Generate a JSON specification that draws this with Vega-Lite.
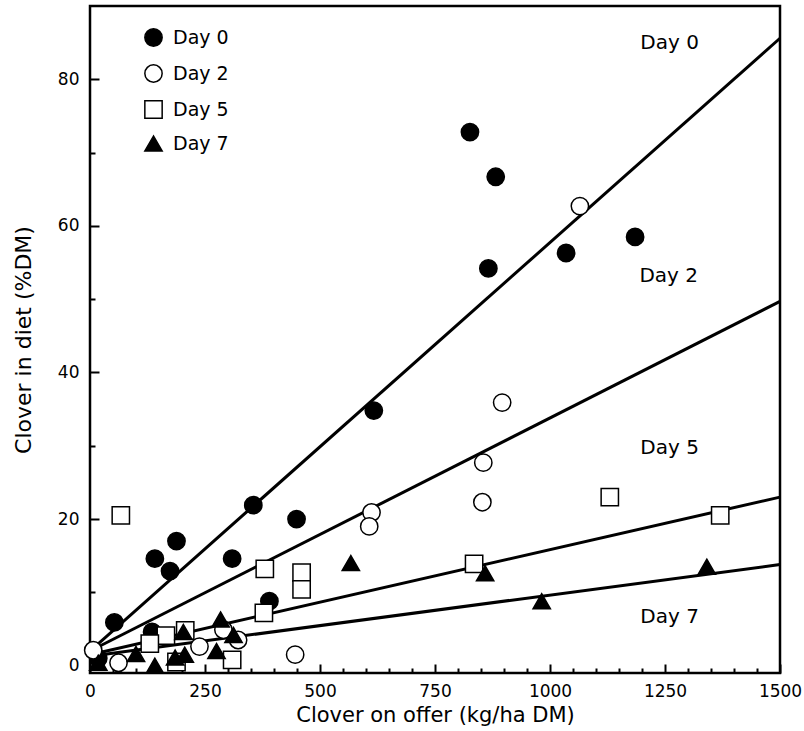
{
  "$schema": "https://vega.github.io/schema/vega-lite/v6.json",
  "autosize": {"type": "none"},
  "padding": {"left": 90, "top": 6, "right": 24, "bottom": 58},
  "width": 690,
  "height": 667,
  "config": {
    "font": "DejaVu Sans",
    "view": {"stroke": "black", "strokeWidth": 2.5},
    "axis": {
      "grid": false,
      "ticks": true,
      "domain": false,
      "tickColor": "black",
      "tickWidth": 2,
      "labelColor": "black",
      "labelFont": "DejaVu Sans",
      "labelFontSize": 17,
      "labelOverlap": false,
      "labelFlush": false,
      "titleFont": "DejaVu Sans",
      "titleFontSize": 21,
      "titleFontWeight": "normal",
      "titleColor": "black"
    },
    "legend": {
      "orient": "none",
      "legendX": 54,
      "legendY": 22,
      "padding": 0,
      "title": null,
      "labelFontSize": 19,
      "labelColor": "black",
      "labelFont": "DejaVu Sans",
      "symbolSize": 300,
      "symbolStrokeWidth": 1.5,
      "rowPadding": 11,
      "labelOffset": 10
    }
  },
  "resolve": {"axis": {"x": "independent", "y": "independent"}},
  "datasets": {
    "points": [
      {"series": "Day 0", "offer": 53, "diet": 5.9},
      {"series": "Day 0", "offer": 141, "diet": 14.6},
      {"series": "Day 0", "offer": 174, "diet": 12.9},
      {"series": "Day 0", "offer": 188, "diet": 17.0},
      {"series": "Day 0", "offer": 355, "diet": 21.9},
      {"series": "Day 0", "offer": 309, "diet": 14.6},
      {"series": "Day 0", "offer": 449, "diet": 20.0},
      {"series": "Day 0", "offer": 390, "diet": 8.8},
      {"series": "Day 0", "offer": 135, "diet": 4.6},
      {"series": "Day 0", "offer": 18, "diet": 1.0},
      {"series": "Day 0", "offer": 617, "diet": 34.8},
      {"series": "Day 0", "offer": 826, "diet": 72.8},
      {"series": "Day 0", "offer": 882, "diet": 66.7},
      {"series": "Day 0", "offer": 866, "diet": 54.2},
      {"series": "Day 0", "offer": 1035, "diet": 56.3},
      {"series": "Day 0", "offer": 1185, "diet": 58.5},
      {"series": "Day 2", "offer": 1065, "diet": 62.7},
      {"series": "Day 2", "offer": 896, "diet": 35.9},
      {"series": "Day 2", "offer": 855, "diet": 27.7},
      {"series": "Day 2", "offer": 853, "diet": 22.3},
      {"series": "Day 2", "offer": 612, "diet": 20.9},
      {"series": "Day 2", "offer": 607, "diet": 19.0},
      {"series": "Day 2", "offer": 446, "diet": 1.5},
      {"series": "Day 2", "offer": 62, "diet": 0.4},
      {"series": "Day 2", "offer": 7, "diet": 2.1},
      {"series": "Day 2", "offer": 238, "diet": 2.6},
      {"series": "Day 2", "offer": 290, "diet": 4.9},
      {"series": "Day 2", "offer": 322, "diet": 3.5},
      {"series": "Day 5", "offer": 67, "diet": 20.5},
      {"series": "Day 5", "offer": 380, "diet": 13.2},
      {"series": "Day 5", "offer": 460, "diet": 12.7},
      {"series": "Day 5", "offer": 460, "diet": 10.4},
      {"series": "Day 5", "offer": 378, "diet": 7.2},
      {"series": "Day 5", "offer": 309, "diet": 0.8},
      {"series": "Day 5", "offer": 207, "diet": 4.8},
      {"series": "Day 5", "offer": 165, "diet": 4.1},
      {"series": "Day 5", "offer": 188, "diet": 0.5},
      {"series": "Day 5", "offer": 130, "diet": 3.0},
      {"series": "Day 5", "offer": 835, "diet": 13.9},
      {"series": "Day 5", "offer": 1130, "diet": 23.0},
      {"series": "Day 5", "offer": 1370, "diet": 20.5},
      {"series": "Day 7", "offer": 567, "diet": 14.0},
      {"series": "Day 7", "offer": 859, "diet": 12.6},
      {"series": "Day 7", "offer": 982, "diet": 8.8},
      {"series": "Day 7", "offer": 1341, "diet": 13.5},
      {"series": "Day 7", "offer": 284, "diet": 6.3},
      {"series": "Day 7", "offer": 312, "diet": 4.2},
      {"series": "Day 7", "offer": 203, "diet": 4.6},
      {"series": "Day 7", "offer": 275, "diet": 2.0},
      {"series": "Day 7", "offer": 185, "diet": 1.1},
      {"series": "Day 7", "offer": 141, "diet": 0.0},
      {"series": "Day 7", "offer": 100, "diet": 1.6},
      {"series": "Day 7", "offer": 18, "diet": 0.4},
      {"series": "Day 7", "offer": 206, "diet": 1.5}
    ],
    "lines": [
      {"series": "Day 0", "offer": 0, "diet": 2.0},
      {"series": "Day 0", "offer": 1500, "diet": 85.6},
      {"series": "Day 2", "offer": 0, "diet": 2.0},
      {"series": "Day 2", "offer": 1500, "diet": 49.7},
      {"series": "Day 5", "offer": 0, "diet": 1.5},
      {"series": "Day 5", "offer": 1500, "diet": 23.0},
      {"series": "Day 7", "offer": 0, "diet": 1.3},
      {"series": "Day 7", "offer": 1500, "diet": 13.8}
    ],
    "labels": [
      {"label": "Day 0", "offer": 1260, "diet": 84.9},
      {"label": "Day 2", "offer": 1258, "diet": 53.2},
      {"label": "Day 5", "offer": 1260, "diet": 29.7},
      {"label": "Day 7", "offer": 1260, "diet": 6.6}
    ]
  },
  "layer": [
    {
      "data": {"name": "lines"},
      "mark": {"type": "line", "stroke": "black", "strokeWidth": 3},
      "encoding": {
        "x": {
          "field": "offer", "type": "quantitative",
          "scale": {"domain": [0, 1500], "nice": false, "zero": false},
          "axis": {
            "orient": "bottom",
            "title": "Clover on offer (kg/ha DM)",
            "values": [0, 250, 500, 750, 1000, 1250, 1500],
            "format": "d",
            "offset": -9,
            "tickSize": 9,
            "labelPadding": 10,
            "titlePadding": 5
          }
        },
        "y": {
          "field": "diet", "type": "quantitative",
          "scale": {"domain": [-1, 90], "nice": false, "zero": false},
          "axis": {
            "orient": "left",
            "title": "Clover in diet (%DM)",
            "titleFontSize": 22,
            "values": [0, 20, 40, 60, 80],
            "offset": -9,
            "tickSize": 9,
            "labelPadding": 11,
            "titlePadding": 22
          }
        },
        "detail": {"field": "series"}
      }
    },
    {
      "data": {"name": "points"},
      "mark": {"type": "point", "filled": false, "strokeWidth": 1.5, "size": 300, "opacity": 1},
      "encoding": {
        "x": {
          "field": "offer", "type": "quantitative",
          "axis": {
            "orient": "bottom",
            "title": null,
            "labels": false,
            "values": [50,100,150,200,300,350,400,450,550,600,650,700,800,850,900,950,1050,1100,1150,1200,1300,1350,1400,1450],
            "offset": -5,
            "tickSize": 5
          }
        },
        "y": {
          "field": "diet", "type": "quantitative",
          "axis": {
            "orient": "left",
            "title": null,
            "labels": false,
            "values": [10, 30, 50, 70],
            "offset": -5,
            "tickSize": 5
          }
        },
        "shape": {
          "field": "series", "type": "nominal",
          "scale": {"domain": ["Day 0", "Day 2", "Day 5", "Day 7"], "range": ["circle", "circle", "square", "triangle-up"]}
        },
        "fill": {
          "field": "series", "type": "nominal",
          "scale": {"domain": ["Day 0", "Day 2", "Day 5", "Day 7"], "range": ["black", "white", "white", "black"]}
        },
        "stroke": {
          "field": "series", "type": "nominal",
          "scale": {"domain": ["Day 0", "Day 2", "Day 5", "Day 7"], "range": ["black", "black", "black", "black"]}
        }
      }
    },
    {
      "data": {"name": "labels"},
      "mark": {"type": "text", "fontSize": 20, "font": "DejaVu Sans", "color": "black", "align": "center", "baseline": "middle"},
      "encoding": {
        "x": {"field": "offer", "type": "quantitative", "axis": null},
        "y": {"field": "diet", "type": "quantitative", "axis": null},
        "text": {"field": "label"}
      }
    }
  ]
}
